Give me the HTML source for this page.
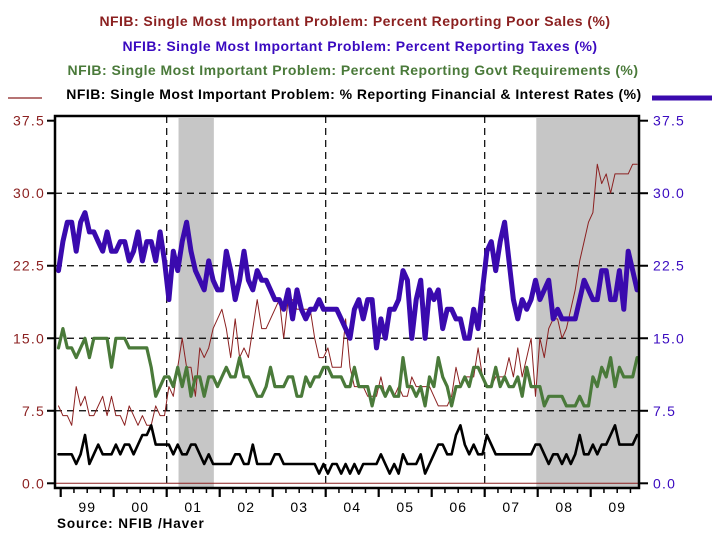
<!DOCTYPE html>
<html><head><meta charset="utf-8"><style>
html,body{margin:0;padding:0;background:#fff;}
svg{display:block;font-family:"Liberation Sans",Arial,sans-serif;}
</style></head><body>
<svg id="chart" width="720" height="549" viewBox="0 0 720 549">
<g font-weight="bold" font-size="14" letter-spacing="0.45" text-anchor="middle">
<text x="355" y="26" fill="#8B2020">NFIB: Single Most Important Problem: Percent Reporting Poor Sales (%)</text>
<text x="360" y="51" fill="#3A0AC0">NFIB: Single Most Important Problem: Percent Reporting Taxes (%)</text>
<text x="353" y="75" fill="#4A7A3A">NFIB: Single Most Important Problem: Percent Reporting Govt Requirements (%)</text>
<text x="354" y="99" fill="#000">NFIB: Single Most Important Problem: % Reporting Financial &amp; Interest Rates (%)</text>
</g>
<line x1="8" y1="98" x2="42" y2="98" stroke="#8B2020" stroke-width="1.2"/>
<line x1="652" y1="98" x2="712" y2="98" stroke="#3A0AAE" stroke-width="5"/>
<g id="plot"></g>
<text x="57" y="528" font-size="13.5" font-weight="bold" letter-spacing="0.9" fill="#000">Source:  NFIB /Haver</text>
</svg>
<script>
const startYear = 1998, startMonth = 11; // Dec 1998 (0-based month)
const yTicks = [0, 7.5, 15, 22.5, 30, 37.5];
const yearLabels = ["99","00","01","02","03","04","05","06","07","08","09"];
const recessions = [[2001,2,2001,10],[2007,11,2009,11]];
const taxes = [22,
25,27,27,24,27,28,26,26,25,24,26,24,
24,25,25,23,24,26,23,25,25,23,26,23,
19,24,22,25,27,24,22,21,20,23,21,20,
20,24,22,19,21,24,21,20,22,21,21,20,
19,19,18,20,17,20,18,17,18,18,19,18,
18,18,18,17,16,15,18,19,17,19,19,14,
17,15,18,18,19,22,21,15,19,21,15,20,
19,20,16,18,18,17,17,15,15,18,16,20,
24,25,22,25,27,23,19,17,19,18,19,21,
19,20,21,17,18,17,17,17,17,19,21,20,
19,19,22,22,19,19,22,18,24,22,20];
const govt = [14,
16,14,14,13,14,15,13,15,15,15,15,12,
15,15,15,14,14,14,14,14,12,9,10,11,
11,10,12,10,12,9,11,11,9,11,11,10,
11,12,11,11,13,11,11,10,9,9,10,12,
10,10,10,11,11,9,9,11,10,11,11,12,
12,11,11,11,10,10,12,10,10,10,8,10,
10,9,10,9,9,13,10,10,9,10,8,11,
10,13,11,10,8,10,10,11,10,12,12,11,
10,10,12,10,11,10,10,11,9,12,10,10,
10,8,9,9,9,9,8,8,8,9,8,8,
11,10,12,11,13,10,12,11,11,11,13];
const poorSales = [8,
7,7,6,10,8,9,7,7,8,9,7,9,
7,7,6,8,7,6,7,6,6,8,7,7,
10,9,12,15,12,12,9,14,13,14,16,17,
18,16,13,17,13,14,13,16,19,16,16,17,
18,19,15,19,19,18,18,18,18,15,13,13,
14,12,12,12,17,12,10,10,10,9,9,9,
11,9,10,9,10,9,9,11,10,10,10,10,
9,8,8,8,9,12,10,11,11,11,14,11,
10,10,11,11,11,13,11,14,11,13,15,9,
15,13,16,17,17,15,16,18,20,23,25,27,
28,33,31,32,30,32,32,32,32,33,33];
const financial = [3,
3,3,3,2,3,5,2,3,4,3,3,3,
4,3,4,4,3,4,5,5,6,4,4,4,
4,3,4,3,3,4,4,3,2,3,2,2,
2,2,2,3,3,2,2,4,2,2,2,2,
3,3,2,2,2,2,2,2,2,2,1,2,
1,2,2,1,2,1,2,1,2,2,2,2,
3,2,1,2,1,3,2,2,2,3,1,2,
3,4,4,3,3,5,6,4,3,4,3,3,
5,4,3,3,3,3,3,3,3,3,3,4,
4,3,2,3,3,2,3,2,3,5,3,3,
4,3,4,4,5,6,4,4,4,4,5];

const L=55,R=639,T=116,B=488;
const y0=483.3, yTop=120.7, yMax=37.5;
const x1999=60.7, pxYear=53.0;
function xOfMonth(y,m){return x1999+((y-1999)+m/12)*pxYear;}
function xIdx(i){const mo=startMonth+i;return xOfMonth(startYear+Math.floor(mo/12),mo%12)+pxYear/24;}
function yv(v){return y0-(v/yMax)*(y0-yTop);}
const NS="http://www.w3.org/2000/svg";
const plot=document.getElementById('plot');
function mk(tag,attrs,parent){const e=document.createElementNS(NS,tag);for(const k in attrs)e.setAttribute(k,attrs[k]);(parent||plot).appendChild(e);return e;}

recessions.forEach(r=>{
  const xa=Math.max(L,xOfMonth(r[0],r[1])+3), xb=Math.min(R-1,xOfMonth(r[2],r[3])+3);
  const e=mk('rect',{x:xa,y:T+2,width:xb-xa,height:B-T-3,fill:'#c6c6c6'});
  
  
});
yTicks.forEach(t=>{
  if(t>0&&t<37.5){const g=mk('line',{x1:L,x2:R,y1:yv(t),y2:yv(t),stroke:'#000','stroke-width':1.2,'stroke-dasharray':'7,5'});
  
  }
  const tl=mk('line',{x1:47,x2:L,y1:yv(t),y2:yv(t),stroke:'#000','stroke-width':2});
  
  
  const tr=mk('line',{x1:R,x2:648,y1:yv(t),y2:yv(t),stroke:'#000','stroke-width':2});
  
  
  const a=mk('text',{x:45,y:yv(t)+5,'text-anchor':'end','font-size':14,'letter-spacing':1.2,fill:'#8B2020'});a.textContent=t.toFixed(1);
  
  
  const b=mk('text',{x:653,y:yv(t)+5,'font-size':14,'letter-spacing':1.2,fill:'#3A0AC0'});b.textContent=t.toFixed(1);
  
  
});
[2001,2004,2007].forEach(y=>{
  const e=mk('line',{x1:xOfMonth(y,0),x2:xOfMonth(y,0),y1:T,y2:B,stroke:'#000','stroke-width':1.2,'stroke-dasharray':'7,5'});
  
  
});
const zl=mk('line',{x1:L,x2:R,y1:y0,y2:y0,stroke:'#8B2020','stroke-width':1});


yearLabels.forEach((lab,k)=>{
  const y=1999+k;
  for(let q=0;q<4;q++){const x=xOfMonth(y,q*3);if(x>R)continue;
    const t=mk('line',{x1:x,x2:x,y1:B,y2:B+(q==0?9:5),stroke:'#000','stroke-width':q==0?2.2:1.5});
    
    }
  const tx=mk('text',{x:xOfMonth(y,6),y:512,'text-anchor':'middle','font-size':14,'letter-spacing':1,fill:'#000'});tx.textContent=lab;
  
  
});
function series(data,color,w,name){
  const d=data.map((v,i)=>(i?'L':'M')+xIdx(i).toFixed(1)+','+yv(v).toFixed(1)).join(' ');
  const p=mk('path',{d:d,fill:'none',stroke:color,'stroke-width':w,'stroke-linejoin':'round','stroke-linecap':'round'});
  
  
}
series(poorSales,'#8B2020',1,'poor-sales-line');
series(govt,'#4A7A3A',3.2,'govt-requirements-line');
series(financial,'#000',2.6,'financial-rates-line');
series(taxes,'#3A0AAE',5,'taxes-line');
const fr=mk('rect',{x:L,y:T,width:R-L,height:B-T,fill:'none',stroke:'#000','stroke-width':2.5});


</script>
</body></html>
